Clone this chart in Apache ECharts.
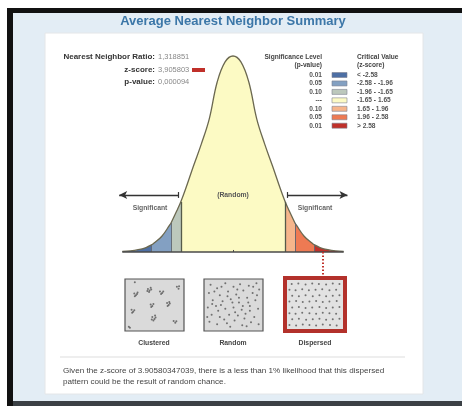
<!DOCTYPE html>
<html>
<head>
<meta charset="utf-8">
<script src="https://cdn.jsdelivr.net/npm/echarts@6/dist/echarts.min.js"></script>
<style>
html, body { margin: 0; padding: 0; background: #ffffff; }
#chart { width: 462px; height: 406px; }
</style>
</head>
<body>
<div id="chart"></div>
<script>
// bell curve (z-score -> height)
var zValues = [-3.5, -3.25, -3, -2.75, -2.58, -2.5, -2.25, -2, -1.96, -1.75, -1.65, -1.5, -1.25, -1, -0.75, -0.5, -0.25, 0,
               0.25, 0.5, 0.75, 1, 1.25, 1.5, 1.65, 1.75, 1.96, 2, 2.25, 2.5, 2.58, 2.75, 3, 3.25, 3.5];
var density = [0.0009, 0.002, 0.0045, 0.009, 0.0143, 0.018, 0.032, 0.055, 0.059, 0.0875, 0.102, 0.128, 0.175, 0.22, 0.271, 0.346, 0.387, 0.399,
               0.387, 0.346, 0.271, 0.22, 0.175, 0.128, 0.102, 0.0875, 0.059, 0.055, 0.032, 0.018, 0.0143, 0.009, 0.0045, 0.002, 0.0009];

// significance classes
var criticalValues = [-2.58, -1.96, -1.65, 1.65, 1.96, 2.58];
var pValueLabels = ['0.01', '0.05', '0.10', '---', '0.10', '0.05', '0.01'];
var zScoreLabels = ['< -2.58', '-2.58 - -1.96', '-1.96 - -1.65', '-1.65 - 1.65', '1.65 - 1.96', '1.96 - 2.58', '> 2.58'];
var classColors = ['#4d6fa4', '#83a0c2', '#bcc8bc', '#fcfac4', '#f6b58b', '#ee7a53', '#c0302a'];

var statLabels = ['Nearest Neighbor Ratio:', 'z-score:', 'p-value:'];
var statValues = ['1,318851', '3,905803', '0,000094'];
var zScore = 2.83; // where the dotted marker sits on the curve

// sample point patterns (0-100 box coordinates)
var clusteredPts = [[13,74],[16,70],[18,73],[14,68],[19,76],[38,83],[41,80],[44,82],[40,77],[43,86],[37,79],
    [60,78],[64,75],[66,78],[62,73],[91,88],[94,84],[95,89],[43,51],[46,48],[48,52],[44,46],
    [73,54],[76,50],[78,53],[74,48],[77,56],[8,40],[11,36],[13,39],[9,34],[46,25],[50,21],[52,24],[48,18],[51,28],[45,20],
    [85,17],[88,13],[90,16],[3,5],[5,3],[14,97]];
var randomPts = [[8,92],[20,85],[35,95],[50,88],[62,93],[78,90],[92,95],[5,75],[25,70],[40,78],[55,72],[68,80],[85,75],[97,82],
    [12,60],[30,58],[45,62],[60,55],[75,65],[90,60],[3,45],[18,48],[35,42],[50,45],[65,40],[80,48],[95,42],[10,30],[25,25],
    [42,30],[58,28],[72,32],[88,25],[6,15],[20,10],[38,12],[52,18],[66,8],[82,14],[96,10],[15,78],[48,55],[70,22],[28,88],
    [60,65],[33,20],[86,88],[44,5],[77,55],[22,38],[93,70],[57,82],[11,52],[67,48],[39,68],[2,25],[80,38],[53,35],[27,50],[74,6]];
var dispersedPts = [[8,92],[20,93],[33,91],[45,93],[57,92],[70,91],[82,93],[94,92],
    [4,80],[15,79],[27,81],[39,79],[51,80],[63,81],[76,79],[88,80],
    [9,68],[21,67],[33,69],[46,67],[58,69],[70,67],[82,68],[94,69],
    [4,56],[16,57],[28,55],[40,56],[52,57],[64,55],[76,56],[89,57],
    [9,44],[21,45],[33,43],[45,44],[58,45],[70,43],[82,44],[94,45],
    [4,32],[15,31],[27,33],[40,32],[52,31],[64,33],[76,32],[88,31],
    [9,20],[21,21],[34,19],[46,20],[58,21],[70,19],[82,20],[94,21],
    [4,8],[16,7],[28,9],[40,8],[52,7],[64,9],[77,8],[89,7]];
var patternNames = ['Clustered', 'Random', 'Dispersed'];

var chart = echarts.init(document.getElementById('chart'));

var curveData = zValues.map(function (z, i) { return [z, density[i]]; });
function heightAt(z) { return density[zValues.indexOf(z)]; }
function seg(a, b, style) {
    style.type = style.type || 'solid';
    return [{ coord: a, lineStyle: style }, { coord: b }];
}

// vertical class boundaries + baseline + arrows
var markLines = [];
criticalValues.forEach(function (c) {
    var strong = Math.abs(c) === 1.65;
    markLines.push(seg([c, 0], [c, heightAt(c)], { color: strong ? '#555a4a' : '#5e6470', width: strong ? 1.3 : 0.9 }));
});
markLines.push(seg([-3.5, 0], [3.5, 0], { color: '#4a4a4a', width: 1.5 }));
markLines.push(seg([0, 0], [0, 0.004], { color: '#4a4a4a', width: 1 }));
// significant arrows
var arrowL = seg([-1.72, 0.116], [-3.6, 0.116], { color: '#333', width: 1.4 });
arrowL[1].symbol = 'arrow'; arrowL[1].symbolSize = [6, 8];
var arrowR = seg([1.72, 0.116], [3.62, 0.116], { color: '#333', width: 1.4 });
arrowR[1].symbol = 'arrow'; arrowR[1].symbolSize = [6, 8];
markLines.push(arrowL, arrowR);
markLines.push(seg([-1.72, 0.110], [-1.72, 0.122], { color: '#333', width: 1.2 }));
markLines.push(seg([1.72, 0.110], [1.72, 0.122], { color: '#333', width: 1.2 }));
// dotted link to the pattern picture
markLines.push(seg([zScore, 0], [zScore, -0.05], { color: '#c0302a', width: 2, type: [1.5, 2] }));

var visualPieces = [
    { lt: criticalValues[0], color: classColors[0] },
    { gte: criticalValues[0], lt: criticalValues[1], color: classColors[1] },
    { gte: criticalValues[1], lt: criticalValues[2], color: classColors[2] },
    { gte: criticalValues[2], lte: criticalValues[3], color: classColors[3] },
    { gt: criticalValues[3], lte: criticalValues[4], color: classColors[4] },
    { gt: criticalValues[4], lte: criticalValues[5], color: classColors[5] },
    { gt: criticalValues[5], color: classColors[6] }
];

// background, texts and legend table
var legendFont = 'bold 6.6px "Liberation Sans"';
var graphics = [
    { type: 'rect', z: -20, shape: { x: 7, y: 8, width: 455, height: 398 }, style: { fill: '#111' } },
    { type: 'rect', z: -19, shape: { x: 13, y: 13, width: 449, height: 388 }, style: { fill: '#e3edf5' } },
    { type: 'rect', z: -19, shape: { x: 13, y: 401, width: 449, height: 5 }, style: { fill: '#3b4045' } },
    { type: 'rect', z: -18, shape: { x: 45, y: 33, width: 378, height: 361 }, style: { fill: '#ffffff', stroke: '#e4e6e8', lineWidth: 1 } },
    { type: 'text', z: 50, x: 233, y: 21, style: { text: 'Average Nearest Neighbor Summary', font: 'bold 13px "Liberation Sans"', fill: '#3c77a8', align: 'center', verticalAlign: 'middle' } },
    { type: 'text', z: 50, x: 233, y: 195, style: { text: '(Random)', font: 'bold 6.8px "Liberation Sans"', fill: '#555', align: 'center', verticalAlign: 'middle' } },
    { type: 'text', z: 50, x: 150, y: 208, style: { text: 'Significant', font: 'bold 6.8px "Liberation Sans"', fill: '#666', align: 'center', verticalAlign: 'middle' } },
    { type: 'text', z: 50, x: 315, y: 208, style: { text: 'Significant', font: 'bold 6.8px "Liberation Sans"', fill: '#666', align: 'center', verticalAlign: 'middle' } },
    { type: 'rect', z: 50, shape: { x: 192, y: 68, width: 13, height: 4 }, style: { fill: '#c0302a' } },
    { type: 'text', z: 50, x: 322, y: 57, style: { text: 'Significance Level', font: legendFont, fill: '#444', align: 'right', verticalAlign: 'middle' } },
    { type: 'text', z: 50, x: 322, y: 65.5, style: { text: '(p-value)', font: legendFont, fill: '#444', align: 'right', verticalAlign: 'middle' } },
    { type: 'text', z: 50, x: 357, y: 57, style: { text: 'Critical Value', font: legendFont, fill: '#444', align: 'left', verticalAlign: 'middle' } },
    { type: 'text', z: 50, x: 357, y: 65.5, style: { text: '(z-score)', font: legendFont, fill: '#444', align: 'left', verticalAlign: 'middle' } },
    { type: 'line', z: 50, shape: { x1: 60, y1: 357, x2: 405, y2: 357 }, style: { stroke: '#dddddd', lineWidth: 1 } },
    { type: 'text', z: 50, x: 63, y: 371, style: { text: 'Given the z-score of 3.90580347039, there is a less than 1% likelihood that this dispersed', font: '8.1px "Liberation Sans"', fill: '#444', verticalAlign: 'middle' } },
    { type: 'text', z: 50, x: 63, y: 382, style: { text: 'pattern could be the result of random chance.', font: '8.1px "Liberation Sans"', fill: '#444', verticalAlign: 'middle' } }
];
statLabels.forEach(function (s, i) {
    var y = [57, 70, 82][i];
    graphics.push({ type: 'text', z: 50, x: 155, y: y, style: { text: s, font: 'bold 8px "Liberation Sans"', fill: '#333', align: 'right', verticalAlign: 'middle' } });
    graphics.push({ type: 'text', z: 50, x: 158, y: y, style: { text: statValues[i], font: '7.5px "Liberation Sans"', fill: '#888', align: 'left', verticalAlign: 'middle' } });
});
pValueLabels.forEach(function (p, i) {
    var y = 75 + i * 8.45;
    graphics.push({ type: 'text', z: 50, x: 322, y: y, style: { text: p, font: legendFont, fill: '#555', align: 'right', verticalAlign: 'middle' } });
    graphics.push({ type: 'rect', z: 50, shape: { x: 332, y: y - 2.5, width: 15, height: 5 }, style: { fill: classColors[i], stroke: '#7d8290', lineWidth: 0.6 } });
    graphics.push({ type: 'text', z: 50, x: 357, y: y, style: { text: zScoreLabels[i], font: legendFont, fill: '#555', align: 'left', verticalAlign: 'middle' } });
});
[154, 233, 315].forEach(function (x, i) {
    graphics.push({ type: 'text', z: 50, x: x, y: 343, style: { text: patternNames[i], font: 'bold 6.8px "Liberation Sans"', fill: '#444', align: 'center', verticalAlign: 'middle' } });
});

var boxGrids = [
    { left: 125, top: 279, width: 59, height: 52, show: true, backgroundColor: '#dadada', borderColor: '#555', borderWidth: 1.2 },
    { left: 204, top: 279, width: 59, height: 52, show: true, backgroundColor: '#dadada', borderColor: '#555', borderWidth: 1.2 },
    { left: 285, top: 278, width: 60, height: 53, show: true, backgroundColor: '#e2e2e2', borderColor: '#b3312b', borderWidth: 4 }
];
var patternData = [clusteredPts, randomPts, dispersedPts];

var option = {
    backgroundColor: '#ffffff',
    animation: false,
    grid: [{ left: 116, width: 234, top: 55.5, height: 221 }].concat(boxGrids),
    xAxis: [{ gridIndex: 0, type: 'value', min: -3.7, max: 3.7, show: false }].concat(boxGrids.map(function (g, i) {
        return { gridIndex: i + 1, type: 'value', min: -4, max: 104, show: false };
    })),
    yAxis: [{ gridIndex: 0, type: 'value', min: -0.05, max: 0.4, show: false }].concat(boxGrids.map(function (g, i) {
        return { gridIndex: i + 1, type: 'value', min: -4, max: 104, show: false };
    })),
    visualMap: {
        type: 'piecewise',
        show: false,
        dimension: 0,
        seriesIndex: 0,
        pieces: visualPieces
    },
    graphic: { elements: graphics },
    series: [
        {
            type: 'line',
            data: curveData,
            smooth: 0.4,
            showSymbol: false,
            silent: true,
            lineStyle: { opacity: 0 },
            areaStyle: { opacity: 1 }
        },
        {
            type: 'line',
            data: curveData,
            smooth: 0.4,
            showSymbol: false,
            silent: true,
            lineStyle: { color: '#6b6850', width: 1.3 },
            z: 3,
            markLine: {
                silent: true,
                symbol: 'none',
                label: { show: false },
                lineStyle: { type: 'solid' },
                data: markLines
            }
        }
    ].concat(patternData.map(function (pts, i) {
        return {
            type: 'scatter',
            xAxisIndex: i + 1,
            yAxisIndex: i + 1,
            data: pts,
            symbolSize: 2,
            silent: true,
            itemStyle: { color: '#555' }
        };
    }))
};
chart.setOption(option);
</script>
</body>
</html>
